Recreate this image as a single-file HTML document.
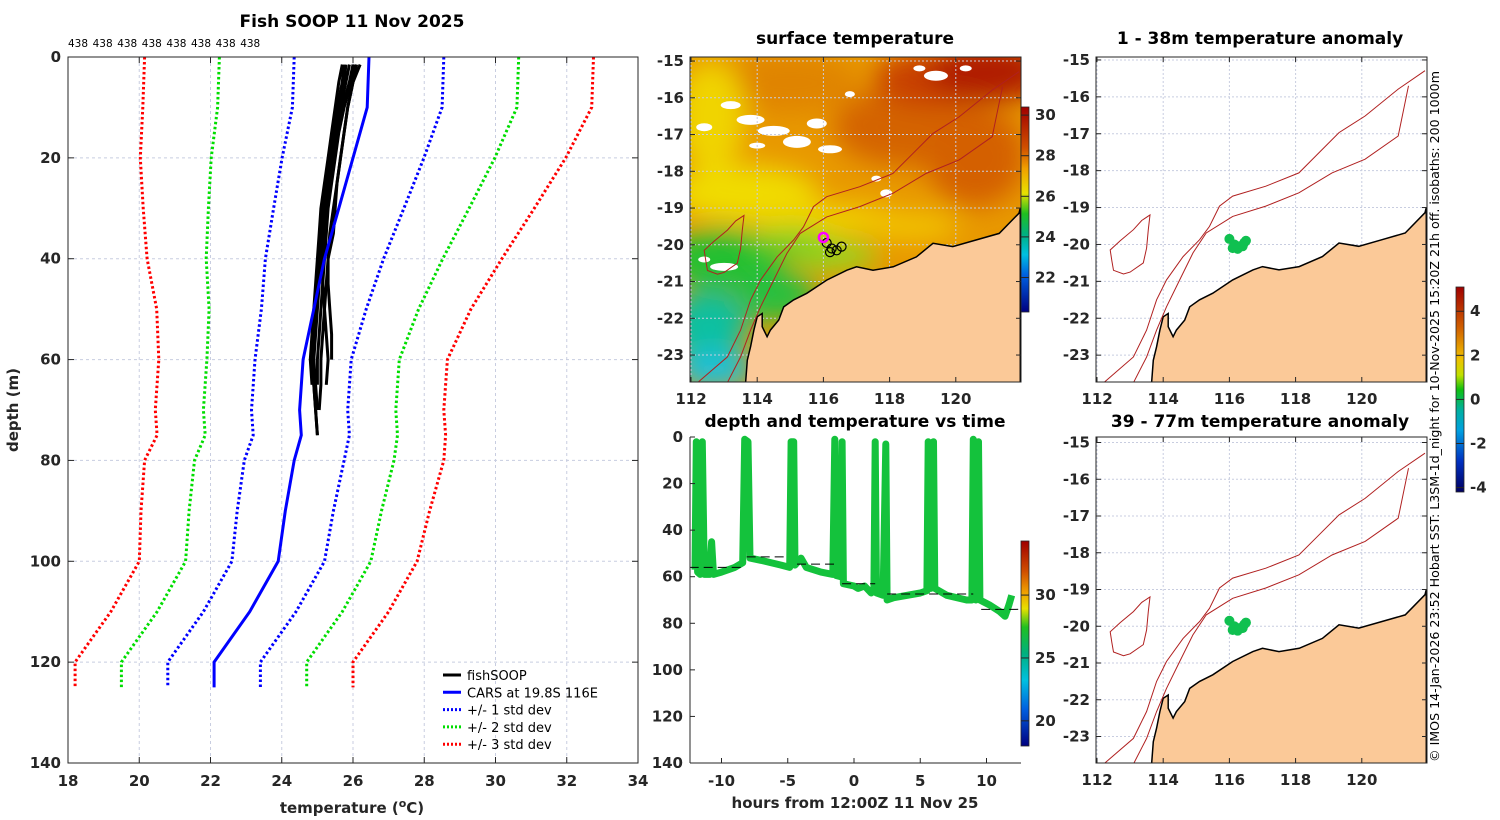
<!DOCTYPE html>
<html><head><meta charset="utf-8"><style>
html,body{margin:0;padding:0;background:#fff}
svg{display:block;font-family:"DejaVu Sans","Liberation Sans",sans-serif}
.tk{font-size:15px;font-weight:bold;fill:#262626}
.ttl{font-size:17px;font-weight:bold;fill:#000}
</style></head><body>
<svg id="fig" width="1500" height="820" viewBox="0 0 1500 820" xmlns="http://www.w3.org/2000/svg">
<defs>
<filter id="blur" x="-30%" y="-30%" width="160%" height="160%"><feGaussianBlur stdDeviation="13"/></filter>
<clipPath id="clipSST"><rect x="690" y="57" width="331" height="325"/></clipPath>
<clipPath id="clipA1"><rect x="1096" y="57" width="331" height="325"/></clipPath>
<clipPath id="clipA2"><rect x="1096" y="437" width="331" height="326"/></clipPath>
<clipPath id="clipT"><rect x="690" y="433" width="331" height="330"/></clipPath>
<linearGradient id="cbSST" x1="0" y1="0" x2="0" y2="1">
<stop offset="0" stop-color="#a00000"/><stop offset="0.2" stop-color="#d05000"/><stop offset="0.3" stop-color="#f0a000"/><stop offset="0.42" stop-color="#e8e000"/><stop offset="0.52" stop-color="#20c020"/><stop offset="0.62" stop-color="#00b080"/><stop offset="0.72" stop-color="#00c0e0"/><stop offset="0.82" stop-color="#0060e0"/><stop offset="1" stop-color="#000080"/></linearGradient>
<linearGradient id="cbT" x1="0" y1="0" x2="0" y2="1">
<stop offset="0" stop-color="#a00000"/><stop offset="0.15" stop-color="#d05000"/><stop offset="0.25" stop-color="#f0a000"/><stop offset="0.33" stop-color="#e8e000"/><stop offset="0.42" stop-color="#20c020"/><stop offset="0.55" stop-color="#00b080"/><stop offset="0.68" stop-color="#00c0e0"/><stop offset="0.82" stop-color="#0060e0"/><stop offset="1" stop-color="#000080"/></linearGradient>
<linearGradient id="cbA" x1="0" y1="0" x2="0" y2="1">
<stop offset="0" stop-color="#a00000"/><stop offset="0.2" stop-color="#d06000"/><stop offset="0.35" stop-color="#f0c000"/><stop offset="0.43" stop-color="#c0e000"/><stop offset="0.5" stop-color="#10c010"/><stop offset="0.6" stop-color="#00b0a0"/><stop offset="0.7" stop-color="#00a0e0"/><stop offset="0.85" stop-color="#0030c0"/><stop offset="1" stop-color="#000060"/></linearGradient>
</defs>
<g id="root"></g>
</svg>
<script>
// ---------- Profile panel data ----------
const climDepths=[0,10,20,30,40,50,60,70,75,80,90,100,110,120,125];
const climMean=[26.45,26.4,26.0,25.6,25.2,24.9,24.6,24.5,24.55,24.35,24.1,23.9,23.1,22.1,22.1];
const climStd=[2.1,2.1,1.99,1.83,1.66,1.47,1.35,1.35,1.35,1.4,1.35,1.3,1.3,1.3,1.3];
const fishDepths=[1.5,5,10,15,20,25,30,35,40,45,50,55,60,65,70,75];
const fishT1=[25.8,25.75,25.6,25.5,25.4,25.3,25.2,25.15,25.1,25.05,25.0,24.95,24.9,24.9,24.95,25.0];
const fishT2=[26.2,26.0,25.85,25.75,25.65,25.55,25.45,25.35,25.3,25.25,25.2,25.15,25.1,25.1,25.05];
const fishT3=[25.7,25.6,25.5,25.4,25.3,25.2,25.1,25.05,25.0,24.95,24.9,24.85,24.8,24.85];
const fishT4=[26.1,26.0,25.85,25.75,25.65,25.55,25.5,25.45,25.3,25.3,25.35,25.4,25.4];
const fishT5=[25.9,25.8,25.65,25.5,25.4,25.25,25.15,25.1,25.05,25.0,24.95,24.9,24.85,24.9,24.95,25.0];
const fishT6=[26.0,25.9,25.7,25.55,25.45,25.35,25.25,25.2,25.15,25.15,25.2,25.25,25.3,25.25];
const fishT7=[25.75,25.7,25.55,25.45,25.35,25.25,25.15,25.1,25.05,25.0,24.95,24.9,24.9,24.95,25.0];
const fishT8=[26.05,25.95,25.75,25.6,25.5,25.4,25.3,25.25,25.2,25.15,25.1,25.05,25.0,25.0];
const xTicks=[18,20,22,24,26,28,30,32,34];
const yTicks=[0,20,40,60,80,100,120,140];
const nObs=[438,438,438,438,438,438,438,438];

// ---------- Time series data ----------
const tsHours=[-12.0,-11.9,-11.8,-11.6,-11.45,-11.3,-10.9,-10.75,-10.6,-10.0,-9.0,-8.4,-8.25,-8.0,-7.85,-7.0,-5.5,-4.85,-4.75,-4.55,-4.45,-4.0,-3.6,-2.5,-1.6,-1.45,-1.35,-1.0,-0.9,-0.8,0,0.3,0.8,1.3,1.5,1.6,1.7,2.2,2.4,2.5,3.0,5.0,5.5,5.6,5.8,6.0,6.1,7.0,8.5,8.9,9.0,9.2,9.4,9.5,10.2,11.0,11.4,11.7,11.9];
const tsDepth=[57,2,58,59,2,59,59,45,59,58,56,54,1,2,52,53,55,56,2,2,55,52,56,58,59,1,59.5,60,2,63,64,65,64,67,66,2,67,68,3,70,69,67,66,2,65,2,65,68,70,70,1,70,2,70,72,75,77,72,68];
const bottomStart=[-12.4,-8.1,-4.3,-0.9,2.5,9.6];
const bottomEnd=[-8.2,-5.0,-1.4,1.6,9.0,12.6];
const bottomDepth=[56,51.5,54.6,63,67.4,74];
const tsXTicks=[-10,-5,0,5,10];
const tsYTicks=[0,20,40,60,80,100,120,140];

// ---------- Map data (lon/lat) ----------
const coastLon=[121.95,121.91,121.31,120.61,119.91,119.31,118.81,118.11,117.5,117.0,116.71,116.1,115.5,115.1,114.8,114.65,114.4,114.3,114.15,114.15,114.0,113.9,113.8,113.7,113.65,121.95];
const coastLat=[-19.0,-19.14,-19.69,-19.87,-20.05,-19.96,-20.33,-20.6,-20.69,-20.6,-20.69,-20.96,-21.32,-21.5,-21.69,-22.05,-22.32,-22.5,-22.23,-21.87,-21.96,-22.32,-22.77,-23.14,-23.75,-23.75];
const iso1000Lon=[121.91,121.1,120.1,119.31,118.71,118.1,117.1,116.1,115.7,115.4,115.1,114.6,114.1,113.8,113.5,113.1,112.2];
const iso1000Lat=[-15.29,-15.79,-16.52,-16.97,-17.51,-18.06,-18.42,-18.69,-18.96,-19.51,-19.87,-20.33,-20.96,-21.5,-22.32,-23.05,-23.75];
const iso200Lon=[121.41,121.1,120.1,119.1,118.1,117.1,116.1,115.3,114.9,114.5,114.1,113.8,113.5,113.1];
const iso200Lat=[-15.7,-17.06,-17.69,-18.06,-18.6,-18.96,-19.24,-19.69,-20.23,-20.96,-21.69,-22.32,-23.05,-23.75];
const reefLon=[113.6,113.35,113.1,112.7,112.4,112.45,112.5,112.8,113.0,113.4,113.5,113.55,113.6];
const reefLat=[-19.2,-19.35,-19.6,-19.9,-20.15,-20.45,-20.7,-20.8,-20.75,-20.5,-20.1,-19.6,-19.2];
const obsLon=[116.0,116.15,116.3,116.45,116.1,116.25,116.4,116.5];
const obsLat=[-19.85,-20.0,-20.05,-19.95,-20.1,-20.12,-20.05,-19.9];
const lonTicks=[112,114,116,118,120];
const latTicks=[-15,-16,-17,-18,-19,-20,-21,-22,-23];

const NS="http://www.w3.org/2000/svg";
const root=document.getElementById('root');
function mk(tag,attrs,parent){const e=document.createElementNS(NS,tag);for(const k in attrs)e.setAttribute(k,attrs[k]);(parent||root).appendChild(e);return e;}
function txt(s,x,y,cls,anchor,parent){const e=mk('text',{x:x,y:y,class:cls,'text-anchor':anchor||'middle'},parent);e.textContent=s;return e;}
function poly(xs,ys){return xs.map((v,i)=>xs[i].toFixed(1)+','+ys[i].toFixed(1)).join(' ');}

// ===== Profile panel =====
const PX0=68,PX1=638,PY0=57,PY1=763;
const px=t=>PX0+(t-18)/16*(PX1-PX0);
const py=d=>PY0+d/140*(PY1-PY0);
let g=mk('g',{});

xTicks.forEach(t=>{let l=mk('line',{x1:px(t),x2:px(t),y1:PY0,y2:PY1,stroke:'#c8cde0','stroke-dasharray':'3,3','stroke-width':1},g);
 });
yTicks.forEach(d=>{let l=mk('line',{x1:PX0,x2:PX1,y1:py(d),y2:py(d),stroke:'#c8cde0','stroke-dasharray':'3,3','stroke-width':1},g);
 });
const sdCols=['#0000ff','#00dd00','#ff0000'];
[1,2,3].forEach(k=>{[-1,1].forEach(s=>{
 const xs=climMean.map((m,i)=>px(m+s*k*climStd[i]));const ys=climDepths.map(py);
 let l=mk('polyline',{points:poly(xs,ys),fill:'none',stroke:sdCols[k-1],'stroke-width':3,'stroke-dasharray':'2.5,2.5'},g);
 });});
[fishT1,fishT2,fishT3,fishT4,fishT5,fishT6,fishT7,fishT8].forEach((tt,j)=>{
 const xs=tt.map(px),ys=tt.map((v,i)=>py(fishDepths[i]));
 let l=mk('polyline',{points:poly(xs,ys),fill:'none',stroke:'#000','stroke-width':3,'stroke-linejoin':'round'},g);
 });
let cm=mk('polyline',{points:poly(climMean.map(px),climDepths.map(py)),fill:'none',stroke:'#0000ff','stroke-width':3},g);

mk('rect',{x:PX0,y:PY0,width:PX1-PX0,height:PY1-PY0,fill:'none',stroke:'#262626','stroke-width':1},g);
xTicks.forEach(t=>{mk('line',{x1:px(t),x2:px(t),y1:PY0,y2:PY0+6,stroke:'#262626'},g);mk('line',{x1:px(t),x2:px(t),y1:PY1,y2:PY1-6,stroke:'#262626'},g);
 let e=txt(String(t),px(t),786,'tk','middle',g);});
yTicks.forEach(d=>{mk('line',{x1:PX0,x2:PX0+6,y1:py(d),y2:py(d),stroke:'#262626'},g);mk('line',{x1:PX1,x2:PX1-6,y1:py(d),y2:py(d),stroke:'#262626'},g);
 let e=txt(String(d),61,py(d)+5,'tk','end',g);});
nObs.forEach((n,i)=>{let e=mk('text',{x:68+i*24.6,y:47,'font-size':'10.5',fill:'#000'},g);e.textContent=String(n);
 });
let t1=txt('Fish SOOP 11 Nov 2025',352,27,'ttl','middle',g);
let yl=txt('depth (m)',0,0,'tk','middle',g);yl.setAttribute('transform','translate(18,410) rotate(-90)');yl.setAttribute('font-size','16');

let xl=mk('text',{x:352,y:813,'text-anchor':'middle',class:'tk','font-size':'16'},g);
xl.innerHTML='temperature (<tspan dy="-6" font-size="11">o</tspan><tspan dy="6">C)</tspan>';

const legItems=[['fishSOOP','#000',''],['CARS at 19.8S 116E','#0000ff',''],['+/- 1 std dev','#0000ff','2,2'],['+/- 2 std dev','#00dd00','2,2'],['+/- 3 std dev','#ff0000','2,2']];
legItems.forEach((it,i)=>{const y=675+i*17.3;let lg=mk('g',{},g);
 
 mk('line',{x1:443,x2:461,y1:y,y2:y,stroke:it[1],'stroke-width':3,'stroke-dasharray':it[2]||'none'},lg);
 let e=mk('text',{x:467,y:y+5,'font-size':'13',fill:'#000'},lg);e.textContent=it[0];});

// ===== Maps =====
function drawMap(name,x0,x1,y0,y1,latTop,pxPerLat,clip,sst){
 const lonpx=(x1-x0)/10;
 const P={lx:lon=>x0+(lon-111.97)*lonpx, ly:lat=>y0+(latTop-lat)*pxPerLat};
 let mg=mk('g',{});
 let cg=mk('g',{'clip-path':'url(#'+clip+')'},mg);
 if(sst){
  mk('rect',{x:x0,y:y0,width:x1-x0,height:y1-y0,fill:'#e89800'},cg);
  let bg=mk('g',{filter:'url(#blur)'},cg);
  const blobs=[
   [115.0,-15.6,70,30,'#e08400'],[118.7,-16.8,80,40,'#d46400'],[120.6,-17.6,50,50,'#d46000'],
   [119.2,-15.5,55,28,'#c84000'],[121.0,-15.3,60,30,'#b01c00'],
   [112.6,-16.5,35,55,'#f0d400'],[113.6,-18.6,75,28,'#f0dc00'],[116.0,-19.3,80,16,'#f0d000'],[118.6,-19.5,50,14,'#f2c400'],
   [113.0,-20.4,60,30,'#20c030'],[114.6,-21.4,40,25,'#28c040'],[116.3,-20.3,45,14,'#90d820'],[115.0,-19.9,40,12,'#70d020'],
   [112.5,-22.2,40,35,'#10c0a0'],[112.7,-23.4,40,20,'#20c0d8']];
  blobs.forEach(b=>mk('ellipse',{cx:P.lx(b[0]),cy:P.ly(b[1]),rx:b[2],ry:b[3],fill:b[4]},bg));
  const clouds=[[113.2,-16.2,10,4],[113.8,-16.6,14,5],[114.5,-16.9,16,5],[115.2,-17.2,14,6],[115.8,-16.7,10,5],[116.2,-17.4,12,4],[114.0,-17.3,8,3],[112.4,-16.8,8,4],[119.4,-15.4,12,5],[118.9,-15.2,6,3],[120.3,-15.2,6,3],[113.0,-20.6,14,4],[112.4,-20.4,6,3],[117.9,-18.6,6,4],[117.6,-18.2,5,3],[116.8,-15.9,5,3]];
  clouds.forEach(c=>{let e=mk('ellipse',{cx:P.lx(c[0]),cy:P.ly(c[1]),rx:c[2],ry:c[3],fill:'#fff'},cg);
   });
 }
 lonTicks.forEach(l=>mk('line',{x1:P.lx(l),x2:P.lx(l),y1:y0,y2:y1,stroke:'#c8cde0','stroke-dasharray':'2,2'},cg));
 latTicks.forEach(l=>mk('line',{x1:x0,x2:x1,y1:P.ly(l),y2:P.ly(l),stroke:'#c8cde0','stroke-dasharray':'2,2'},cg));
 let land=mk('polygon',{points:poly(coastLon.map(P.lx),coastLat.map(P.ly)),fill:'#fbc998',stroke:'#000','stroke-width':1.5},cg);
 
 [[iso1000Lon,iso1000Lat],[iso200Lon,iso200Lat]].forEach(a=>{let l=mk('polyline',{points:poly(a[0].map(P.lx),a[1].map(P.ly)),fill:'none',stroke:'#b02020','stroke-width':1},cg);
  });
 let rf=mk('polygon',{points:poly(reefLon.map(P.lx),reefLat.map(P.ly)),fill:'none',stroke:'#b02020','stroke-width':1},cg);
 
 if(sst){
  obsLon.slice(0,5).forEach((lo,i)=>{let c=mk('circle',{cx:P.lx(lo+0.1),cy:P.ly(obsLat[i]-0.1),r:4.5,fill:'none',stroke:'#000','stroke-width':1.2},cg);
   });
  let m=mk('circle',{cx:P.lx(116.0),cy:P.ly(-19.8),r:4.5,fill:'none',stroke:'#ff00ff','stroke-width':2.5},cg);
  
 } else {
  obsLon.forEach((lo,i)=>{let c=mk('circle',{cx:P.lx(lo),cy:P.ly(obsLat[i]),r:5,fill:'#10c050'},cg);
   });
 }
 mk('rect',{x:x0,y:y0,width:x1-x0,height:y1-y0,fill:'none',stroke:'#262626'},mg);
 lonTicks.forEach(l=>{mk('line',{x1:P.lx(l),x2:P.lx(l),y1:y1,y2:y1-5,stroke:'#262626'},mg);mk('line',{x1:P.lx(l),x2:P.lx(l),y1:y0,y2:y0+5,stroke:'#262626'},mg);
  let e=txt(String(l),P.lx(l),y1+22,'tk','middle',mg);});
 latTicks.forEach(l=>{mk('line',{x1:x0,x2:x0+5,y1:P.ly(l),y2:P.ly(l),stroke:'#262626'},mg);mk('line',{x1:x1,x2:x1-5,y1:P.ly(l),y2:P.ly(l),stroke:'#262626'},mg);
  let e=txt(String(l),x0-6,P.ly(l)+5,'tk','end',mg);});
 return mg;
}
drawMap('sst-map',690,1021,57,382,-14.89,36.75,'clipSST',true);
let st=txt('surface temperature',855,44,'ttl','middle');
drawMap('anomaly-map-shallow',1096,1427,57,382,-14.92,36.9,'clipA1',false);
let a1=txt('1 - 38m temperature anomaly',1260,44,'ttl','middle');
drawMap('anomaly-map-deep',1096,1427,437,763,-14.85,36.75,'clipA2',false);
let a2=txt('39 - 77m temperature anomaly',1260,427,'ttl','middle');

function cbar(name,x,y0,y1,grad,vmin,vmax,ticks){
 let cg=mk('g',{});
 mk('rect',{x:x,y:y0,width:8,height:y1-y0,fill:'url(#'+grad+')',stroke:'#262626','stroke-width':0.8},cg);
 ticks.forEach(t=>{const y=y1-(t-vmin)/(vmax-vmin)*(y1-y0);mk('line',{x1:x,x2:x+8,y1:y,y2:y,stroke:'#262626'},cg);
  let e=txt(String(t),x+14,y+5,'tk','start',cg);e.setAttribute('font-size','13');});
}
cbar('sst-colorbar',1021,107,312,'cbSST',20.3,30.4,[22,24,26,28,30]);
cbar('temperature-colorbar',1021,541,746,'cbT',18,34.3,[20,25,30]);
cbar('anomaly-colorbar',1456,287,492,'cbA',-4.2,5.1,[-4,-2,0,2,4]);

// ===== Time series panel =====
const TX0=690,TX1=1021,TY0=437,TY1=763;
const tx=h=>854+h*13.25;
const ty=d=>TY0+d/140*(TY1-TY0);
let tg=mk('g',{});
let tc=mk('g',{'clip-path':'url(#clipT)'},tg);
let tr=mk('polyline',{points:poly(tsHours.map(tx),tsDepth.map(ty)),fill:'none',stroke:'#14c23c','stroke-width':7,'stroke-linejoin':'round'},tc);

bottomDepth.forEach((d,i)=>{let l=mk('line',{x1:tx(bottomStart[i]),x2:tx(bottomEnd[i]),y1:ty(d),y2:ty(d),stroke:'#000','stroke-width':1,'stroke-dasharray':'9,5'},tc);
 });
mk('line',{x1:TX0,x2:TX0,y1:TY0,y2:TY1,stroke:'#262626'},tg);
mk('line',{x1:TX0,x2:TX1,y1:TY1,y2:TY1,stroke:'#262626'},tg);
tsXTicks.forEach(h=>{mk('line',{x1:tx(h),x2:tx(h),y1:TY1,y2:TY1-5,stroke:'#262626'},tg);
 let e=txt(String(h),tx(h),786,'tk','middle',tg);});
tsYTicks.forEach(d=>{mk('line',{x1:TX0,x2:TX0+5,y1:ty(d),y2:ty(d),stroke:'#262626'},tg);
 let e=txt(String(d),683,ty(d)+5,'tk','end',tg);});
let tt=txt('depth and temperature vs time',855,427,'ttl','middle',tg);
let tx2=txt('hours from 12:00Z 11 Nov 25',855,808,'tk','middle',tg);tx2.setAttribute('font-size','16');


let cr=txt('© IMOS 14-Jan-2026 23:52 Hobart SST: L3SM-1d_night for 10-Nov-2025 15:20Z 21h off. isobaths: 200  1000m',0,0,'','start');
cr.setAttribute('transform','translate(1439,762) rotate(-90)');cr.setAttribute('font-size','12.6');cr.setAttribute('fill','#000');cr.setAttribute('xml:space','preserve');

</script>
</body></html>
